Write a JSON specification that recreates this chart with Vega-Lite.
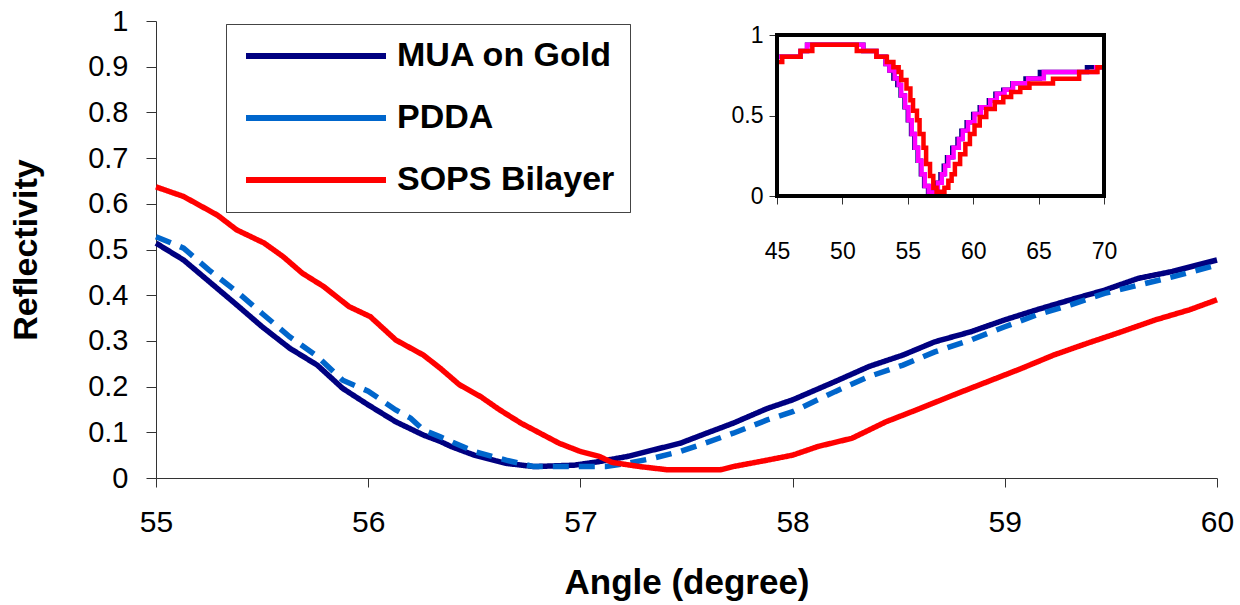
{
  "$schema": "https://vega.github.io/schema/vega-lite/v6.json",
  "width": 1061,
  "height": 457,
  "autosize": {"type": "none"},
  "padding": {"left": 156, "top": 21, "right": 23, "bottom": 127},
  "background": "white",
  "config": {"view": {"stroke": null}, "font": "Liberation Sans", "axis": {"grid": false, "labelColor": "black", "titleColor": "black", "labelOverlap": false, "labelFlush": false}},
  "datasets": {
    "main": [
      {"s": "MUA on Gold", "a": 55.0, "r": 0.514}, {"s": "MUA on Gold", "a": 55.13, "r": 0.477}, {"s": "MUA on Gold", "a": 55.25, "r": 0.43}, {"s": "MUA on Gold", "a": 55.38, "r": 0.379}, {"s": "MUA on Gold", "a": 55.5, "r": 0.331}, {"s": "MUA on Gold", "a": 55.63, "r": 0.284}, {"s": "MUA on Gold", "a": 55.76, "r": 0.247}, {"s": "MUA on Gold", "a": 55.88, "r": 0.196}, {"s": "MUA on Gold", "a": 56.0, "r": 0.16}, {"s": "MUA on Gold", "a": 56.13, "r": 0.123}, {"s": "MUA on Gold", "a": 56.26, "r": 0.094}, {"s": "MUA on Gold", "a": 56.34, "r": 0.08}, {"s": "MUA on Gold", "a": 56.39, "r": 0.069}, {"s": "MUA on Gold", "a": 56.5, "r": 0.05}, {"s": "MUA on Gold", "a": 56.65, "r": 0.032}, {"s": "MUA on Gold", "a": 56.78, "r": 0.025}, {"s": "MUA on Gold", "a": 56.97, "r": 0.028}, {"s": "MUA on Gold", "a": 57.09, "r": 0.036}, {"s": "MUA on Gold", "a": 57.22, "r": 0.047}, {"s": "MUA on Gold", "a": 57.34, "r": 0.061}, {"s": "MUA on Gold", "a": 57.47, "r": 0.076}, {"s": "MUA on Gold", "a": 57.56, "r": 0.092}, {"s": "MUA on Gold", "a": 57.72, "r": 0.12}, {"s": "MUA on Gold", "a": 57.88, "r": 0.152}, {"s": "MUA on Gold", "a": 58.0, "r": 0.171}, {"s": "MUA on Gold", "a": 58.2, "r": 0.211}, {"s": "MUA on Gold", "a": 58.36, "r": 0.244}, {"s": "MUA on Gold", "a": 58.52, "r": 0.269}, {"s": "MUA on Gold", "a": 58.67, "r": 0.298}, {"s": "MUA on Gold", "a": 58.84, "r": 0.32}, {"s": "MUA on Gold", "a": 59.0, "r": 0.346}, {"s": "MUA on Gold", "a": 59.15, "r": 0.368}, {"s": "MUA on Gold", "a": 59.31, "r": 0.39}, {"s": "MUA on Gold", "a": 59.47, "r": 0.411}, {"s": "MUA on Gold", "a": 59.63, "r": 0.437}, {"s": "MUA on Gold", "a": 59.79, "r": 0.452}, {"s": "MUA on Gold", "a": 60.0, "r": 0.477},
      {"s": "PDDA", "a": 55.0, "r": 0.528}, {"s": "PDDA", "a": 55.13, "r": 0.503}, {"s": "PDDA", "a": 55.25, "r": 0.455}, {"s": "PDDA", "a": 55.38, "r": 0.408}, {"s": "PDDA", "a": 55.5, "r": 0.36}, {"s": "PDDA", "a": 55.63, "r": 0.309}, {"s": "PDDA", "a": 55.76, "r": 0.266}, {"s": "PDDA", "a": 55.88, "r": 0.214}, {"s": "PDDA", "a": 56.0, "r": 0.19}, {"s": "PDDA", "a": 56.13, "r": 0.149}, {"s": "PDDA", "a": 56.2, "r": 0.131}, {"s": "PDDA", "a": 56.26, "r": 0.105}, {"s": "PDDA", "a": 56.34, "r": 0.09}, {"s": "PDDA", "a": 56.5, "r": 0.058}, {"s": "PDDA", "a": 56.65, "r": 0.039}, {"s": "PDDA", "a": 56.78, "r": 0.025}, {"s": "PDDA", "a": 57.12, "r": 0.025}, {"s": "PDDA", "a": 57.22, "r": 0.032}, {"s": "PDDA", "a": 57.34, "r": 0.043}, {"s": "PDDA", "a": 57.47, "r": 0.058}, {"s": "PDDA", "a": 57.56, "r": 0.072}, {"s": "PDDA", "a": 57.72, "r": 0.098}, {"s": "PDDA", "a": 57.88, "r": 0.127}, {"s": "PDDA", "a": 58.0, "r": 0.145}, {"s": "PDDA", "a": 58.2, "r": 0.189}, {"s": "PDDA", "a": 58.36, "r": 0.222}, {"s": "PDDA", "a": 58.52, "r": 0.247}, {"s": "PDDA", "a": 58.67, "r": 0.276}, {"s": "PDDA", "a": 58.84, "r": 0.302}, {"s": "PDDA", "a": 59.0, "r": 0.331}, {"s": "PDDA", "a": 59.15, "r": 0.357}, {"s": "PDDA", "a": 59.31, "r": 0.379}, {"s": "PDDA", "a": 59.47, "r": 0.404}, {"s": "PDDA", "a": 59.63, "r": 0.422}, {"s": "PDDA", "a": 59.79, "r": 0.44}, {"s": "PDDA", "a": 60.0, "r": 0.466},
      {"s": "SOPS Bilayer", "a": 55.0, "r": 0.637}, {"s": "SOPS Bilayer", "a": 55.13, "r": 0.616}, {"s": "SOPS Bilayer", "a": 55.29, "r": 0.575}, {"s": "SOPS Bilayer", "a": 55.38, "r": 0.543}, {"s": "SOPS Bilayer", "a": 55.51, "r": 0.514}, {"s": "SOPS Bilayer", "a": 55.6, "r": 0.484}, {"s": "SOPS Bilayer", "a": 55.69, "r": 0.448}, {"s": "SOPS Bilayer", "a": 55.79, "r": 0.419}, {"s": "SOPS Bilayer", "a": 55.91, "r": 0.375}, {"s": "SOPS Bilayer", "a": 56.01, "r": 0.353}, {"s": "SOPS Bilayer", "a": 56.13, "r": 0.302}, {"s": "SOPS Bilayer", "a": 56.26, "r": 0.269}, {"s": "SOPS Bilayer", "a": 56.34, "r": 0.24}, {"s": "SOPS Bilayer", "a": 56.43, "r": 0.204}, {"s": "SOPS Bilayer", "a": 56.53, "r": 0.178}, {"s": "SOPS Bilayer", "a": 56.62, "r": 0.149}, {"s": "SOPS Bilayer", "a": 56.72, "r": 0.12}, {"s": "SOPS Bilayer", "a": 56.81, "r": 0.098}, {"s": "SOPS Bilayer", "a": 56.9, "r": 0.076}, {"s": "SOPS Bilayer", "a": 57.0, "r": 0.058}, {"s": "SOPS Bilayer", "a": 57.09, "r": 0.047}, {"s": "SOPS Bilayer", "a": 57.15, "r": 0.034}, {"s": "SOPS Bilayer", "a": 57.28, "r": 0.025}, {"s": "SOPS Bilayer", "a": 57.41, "r": 0.018}, {"s": "SOPS Bilayer", "a": 57.66, "r": 0.018}, {"s": "SOPS Bilayer", "a": 57.72, "r": 0.025}, {"s": "SOPS Bilayer", "a": 57.88, "r": 0.039}, {"s": "SOPS Bilayer", "a": 58.0, "r": 0.05}, {"s": "SOPS Bilayer", "a": 58.12, "r": 0.069}, {"s": "SOPS Bilayer", "a": 58.28, "r": 0.087}, {"s": "SOPS Bilayer", "a": 58.44, "r": 0.123}, {"s": "SOPS Bilayer", "a": 58.6, "r": 0.152}, {"s": "SOPS Bilayer", "a": 58.76, "r": 0.182}, {"s": "SOPS Bilayer", "a": 58.92, "r": 0.211}, {"s": "SOPS Bilayer", "a": 59.08, "r": 0.24}, {"s": "SOPS Bilayer", "a": 59.23, "r": 0.269}, {"s": "SOPS Bilayer", "a": 59.39, "r": 0.295}, {"s": "SOPS Bilayer", "a": 59.55, "r": 0.32}, {"s": "SOPS Bilayer", "a": 59.71, "r": 0.346}, {"s": "SOPS Bilayer", "a": 59.87, "r": 0.368}, {"s": "SOPS Bilayer", "a": 60.0, "r": 0.39}
    ],
    "inset": [
      {"s": "MUA", "a": 45.0, "r": 0.865}, {"s": "MUA", "a": 46.8, "r": 0.9}, {"s": "MUA", "a": 47.3, "r": 0.94}, {"s": "MUA", "a": 51.6, "r": 0.9}, {"s": "MUA", "a": 52.6, "r": 0.865}, {"s": "MUA", "a": 53.3, "r": 0.82}, {"s": "MUA", "a": 53.6, "r": 0.78}, {"s": "MUA", "a": 53.9, "r": 0.73}, {"s": "MUA", "a": 54.2, "r": 0.69}, {"s": "MUA", "a": 54.45, "r": 0.625}, {"s": "MUA", "a": 54.75, "r": 0.552}, {"s": "MUA", "a": 55.0, "r": 0.47}, {"s": "MUA", "a": 55.25, "r": 0.385}, {"s": "MUA", "a": 55.5, "r": 0.3}, {"s": "MUA", "a": 55.75, "r": 0.219}, {"s": "MUA", "a": 56.0, "r": 0.135}, {"s": "MUA", "a": 56.25, "r": 0.0625}, {"s": "MUA", "a": 56.55, "r": 0.021}, {"s": "MUA", "a": 57.2, "r": 0.083}, {"s": "MUA", "a": 57.5, "r": 0.135}, {"s": "MUA", "a": 57.75, "r": 0.1875}, {"s": "MUA", "a": 58.0, "r": 0.24}, {"s": "MUA", "a": 58.4, "r": 0.3}, {"s": "MUA", "a": 58.8, "r": 0.354}, {"s": "MUA", "a": 59.1, "r": 0.406}, {"s": "MUA", "a": 59.5, "r": 0.458}, {"s": "MUA", "a": 60.0, "r": 0.51}, {"s": "MUA", "a": 60.5, "r": 0.552}, {"s": "MUA", "a": 61.2, "r": 0.594}, {"s": "MUA", "a": 61.7, "r": 0.635}, {"s": "MUA", "a": 62.3, "r": 0.66}, {"s": "MUA", "a": 63.0, "r": 0.7}, {"s": "MUA", "a": 64.0, "r": 0.73}, {"s": "MUA", "a": 65.1, "r": 0.77}, {"s": "MUA", "a": 68.7, "r": 0.8}, {"s": "MUA", "a": 70.0, "r": 0.8},
      {"s": "PDDA", "a": 45.0, "r": 0.865}, {"s": "PDDA", "a": 46.8, "r": 0.9}, {"s": "PDDA", "a": 47.3, "r": 0.94}, {"s": "PDDA", "a": 51.6, "r": 0.9}, {"s": "PDDA", "a": 52.6, "r": 0.865}, {"s": "PDDA", "a": 53.3, "r": 0.82}, {"s": "PDDA", "a": 53.6, "r": 0.78}, {"s": "PDDA", "a": 54.0, "r": 0.73}, {"s": "PDDA", "a": 54.3, "r": 0.69}, {"s": "PDDA", "a": 54.5, "r": 0.625}, {"s": "PDDA", "a": 54.8, "r": 0.552}, {"s": "PDDA", "a": 55.05, "r": 0.47}, {"s": "PDDA", "a": 55.3, "r": 0.385}, {"s": "PDDA", "a": 55.55, "r": 0.3}, {"s": "PDDA", "a": 55.8, "r": 0.219}, {"s": "PDDA", "a": 56.05, "r": 0.135}, {"s": "PDDA", "a": 56.3, "r": 0.0625}, {"s": "PDDA", "a": 56.6, "r": 0.021}, {"s": "PDDA", "a": 57.3, "r": 0.083}, {"s": "PDDA", "a": 57.6, "r": 0.135}, {"s": "PDDA", "a": 57.85, "r": 0.1875}, {"s": "PDDA", "a": 58.1, "r": 0.24}, {"s": "PDDA", "a": 58.5, "r": 0.3}, {"s": "PDDA", "a": 58.9, "r": 0.354}, {"s": "PDDA", "a": 59.2, "r": 0.406}, {"s": "PDDA", "a": 59.6, "r": 0.458}, {"s": "PDDA", "a": 60.1, "r": 0.51}, {"s": "PDDA", "a": 60.6, "r": 0.552}, {"s": "PDDA", "a": 61.3, "r": 0.594}, {"s": "PDDA", "a": 61.8, "r": 0.635}, {"s": "PDDA", "a": 62.4, "r": 0.66}, {"s": "PDDA", "a": 63.05, "r": 0.7}, {"s": "PDDA", "a": 64.2, "r": 0.73}, {"s": "PDDA", "a": 65.4, "r": 0.77}, {"s": "PDDA", "a": 69.4, "r": 0.8}, {"s": "PDDA", "a": 70.0, "r": 0.8},
      {"s": "SOPS", "a": 45.0, "r": 0.833}, {"s": "SOPS", "a": 45.4, "r": 0.865}, {"s": "SOPS", "a": 46.8, "r": 0.9}, {"s": "SOPS", "a": 47.7, "r": 0.94}, {"s": "SOPS", "a": 51.1, "r": 0.9}, {"s": "SOPS", "a": 52.6, "r": 0.865}, {"s": "SOPS", "a": 53.4, "r": 0.833}, {"s": "SOPS", "a": 53.9, "r": 0.8}, {"s": "SOPS", "a": 54.3, "r": 0.77}, {"s": "SOPS", "a": 54.5, "r": 0.72}, {"s": "SOPS", "a": 54.9, "r": 0.667}, {"s": "SOPS", "a": 55.2, "r": 0.594}, {"s": "SOPS", "a": 55.4, "r": 0.53}, {"s": "SOPS", "a": 55.7, "r": 0.47}, {"s": "SOPS", "a": 55.9, "r": 0.385}, {"s": "SOPS", "a": 56.2, "r": 0.3}, {"s": "SOPS", "a": 56.4, "r": 0.198}, {"s": "SOPS", "a": 56.7, "r": 0.125}, {"s": "SOPS", "a": 56.95, "r": 0.052}, {"s": "SOPS", "a": 57.2, "r": 0.027}, {"s": "SOPS", "a": 57.8, "r": 0.052}, {"s": "SOPS", "a": 58.1, "r": 0.094}, {"s": "SOPS", "a": 58.35, "r": 0.135}, {"s": "SOPS", "a": 58.6, "r": 0.198}, {"s": "SOPS", "a": 59.0, "r": 0.26}, {"s": "SOPS", "a": 59.4, "r": 0.323}, {"s": "SOPS", "a": 59.75, "r": 0.385}, {"s": "SOPS", "a": 60.1, "r": 0.4375}, {"s": "SOPS", "a": 60.5, "r": 0.49}, {"s": "SOPS", "a": 61.0, "r": 0.54}, {"s": "SOPS", "a": 61.65, "r": 0.583}, {"s": "SOPS", "a": 62.3, "r": 0.615}, {"s": "SOPS", "a": 62.9, "r": 0.646}, {"s": "SOPS", "a": 63.6, "r": 0.673}, {"s": "SOPS", "a": 64.3, "r": 0.698}, {"s": "SOPS", "a": 66.1, "r": 0.729}, {"s": "SOPS", "a": 68.1, "r": 0.77}, {"s": "SOPS", "a": 69.5, "r": 0.8}, {"s": "SOPS", "a": 70.0, "r": 0.8}
    ],
    "frame": [{"a": 45, "a2": 70, "r": 0, "r2": 1}]
  },
  "layer": [
    {
      "data": {"name": "main"},
      "mark": {"type": "line", "strokeWidth": 5.5},
      "encoding": {
        "x": {"field": "a", "type": "quantitative", "scale": {"domain": [55, 60], "nice": false, "zero": false},
          "axis": {"values": [55, 56, 57, 58, 59, 60], "title": "Angle (degree)", "titleFontSize": 35, "titleFontWeight": "bold", "titlePadding": 28, "labelFontSize": 30, "labelPadding": 20, "tickSize": 9, "domainColor": "#333", "tickColor": "#333"}},
        "y": {"field": "r", "type": "quantitative", "scale": {"domain": [0, 1], "nice": false},
          "axis": {"values": [0, 0.1, 0.2, 0.3, 0.4, 0.5, 0.6, 0.7, 0.8, 0.9, 1], "format": "~g", "title": "Reflectivity", "titleFontSize": 34, "titleFontWeight": "bold", "titlePadding": 44, "labelFontSize": 29, "labelPadding": 18, "tickSize": 10, "domainColor": "#333", "tickColor": "#333"}},
        "color": {"field": "s", "type": "nominal", "scale": {"domain": ["MUA on Gold", "PDDA", "SOPS Bilayer"], "range": ["#000080", "#0066CC", "#FF0000"]},
          "legend": {"orient": "none", "legendX": 70, "legendY": 3, "title": null, "strokeColor": "#444", "fillColor": "white", "padding": 15, "symbolType": "stroke", "symbolSize": 19600, "symbolStrokeWidth": 6, "symbolOffset": 2, "clipHeight": 34, "rowPadding": 28, "labelOffset": 8, "labelFontSize": 34, "labelFontWeight": "bold", "labelColor": "black", "labelLimit": 400}},
        "strokeDash": {"field": "s", "type": "nominal", "scale": {"domain": ["MUA on Gold", "PDDA", "SOPS Bilayer"], "range": [[1, 0], [16, 10], [1, 0]]},
          "legend": {"orient": "none", "legendX": 70, "legendY": 3, "title": null, "strokeColor": "#444", "fillColor": "white", "padding": 15, "symbolType": "stroke", "symbolSize": 19600, "symbolStrokeWidth": 6, "symbolOffset": 2, "clipHeight": 34, "rowPadding": 28, "labelOffset": 8, "labelFontSize": 34, "labelFontWeight": "bold", "labelColor": "black", "labelLimit": 400}}
      }
    },
    {
      "layer": [
        {
          "data": {"name": "inset"},
          "mark": {"type": "line", "interpolate": "step-after", "strokeWidth": 4.5},
          "encoding": {
            "x": {"field": "a", "type": "quantitative", "scale": {"domain": [45, 70], "range": [621, 948], "nice": false, "zero": false},
              "axis": {"orient": "bottom", "offset": -282, "values": [45, 50, 55, 60, 65, 70], "title": null, "domain": false, "tickSize": 8, "tickColor": "#333", "labelFontSize": 23, "labelFont": "Liberation Sans", "labelPadding": 36}},
            "y": {"field": "r", "type": "quantitative", "scale": {"domain": [0, 1], "range": [175, 14], "nice": false},
              "axis": {"orient": "left", "offset": -621, "values": [0, 0.5, 1], "format": "~g", "title": null, "domain": false, "tickSize": 8, "tickColor": "#333", "labelFontSize": 23, "labelFont": "Liberation Sans", "labelPadding": 6}},
            "color": {"field": "s", "type": "nominal", "scale": {"domain": ["MUA", "PDDA", "SOPS"], "range": ["#000080", "#FF00FF", "#FF0000"]}, "legend": null}
          }
        },
        {
          "data": {"name": "frame"},
          "mark": {"type": "rect", "filled": false, "stroke": "black", "strokeWidth": 4},
          "encoding": {
            "x": {"field": "a", "type": "quantitative"},
            "x2": {"field": "a2"},
            "y": {"field": "r", "type": "quantitative"},
            "y2": {"field": "r2"}
          }
        }
      ]
    }
  ],
  "resolve": {"scale": {"x": "independent", "y": "independent", "color": "independent"}, "axis": {"x": "independent", "y": "independent"}, "legend": {"color": "independent"}}
}
